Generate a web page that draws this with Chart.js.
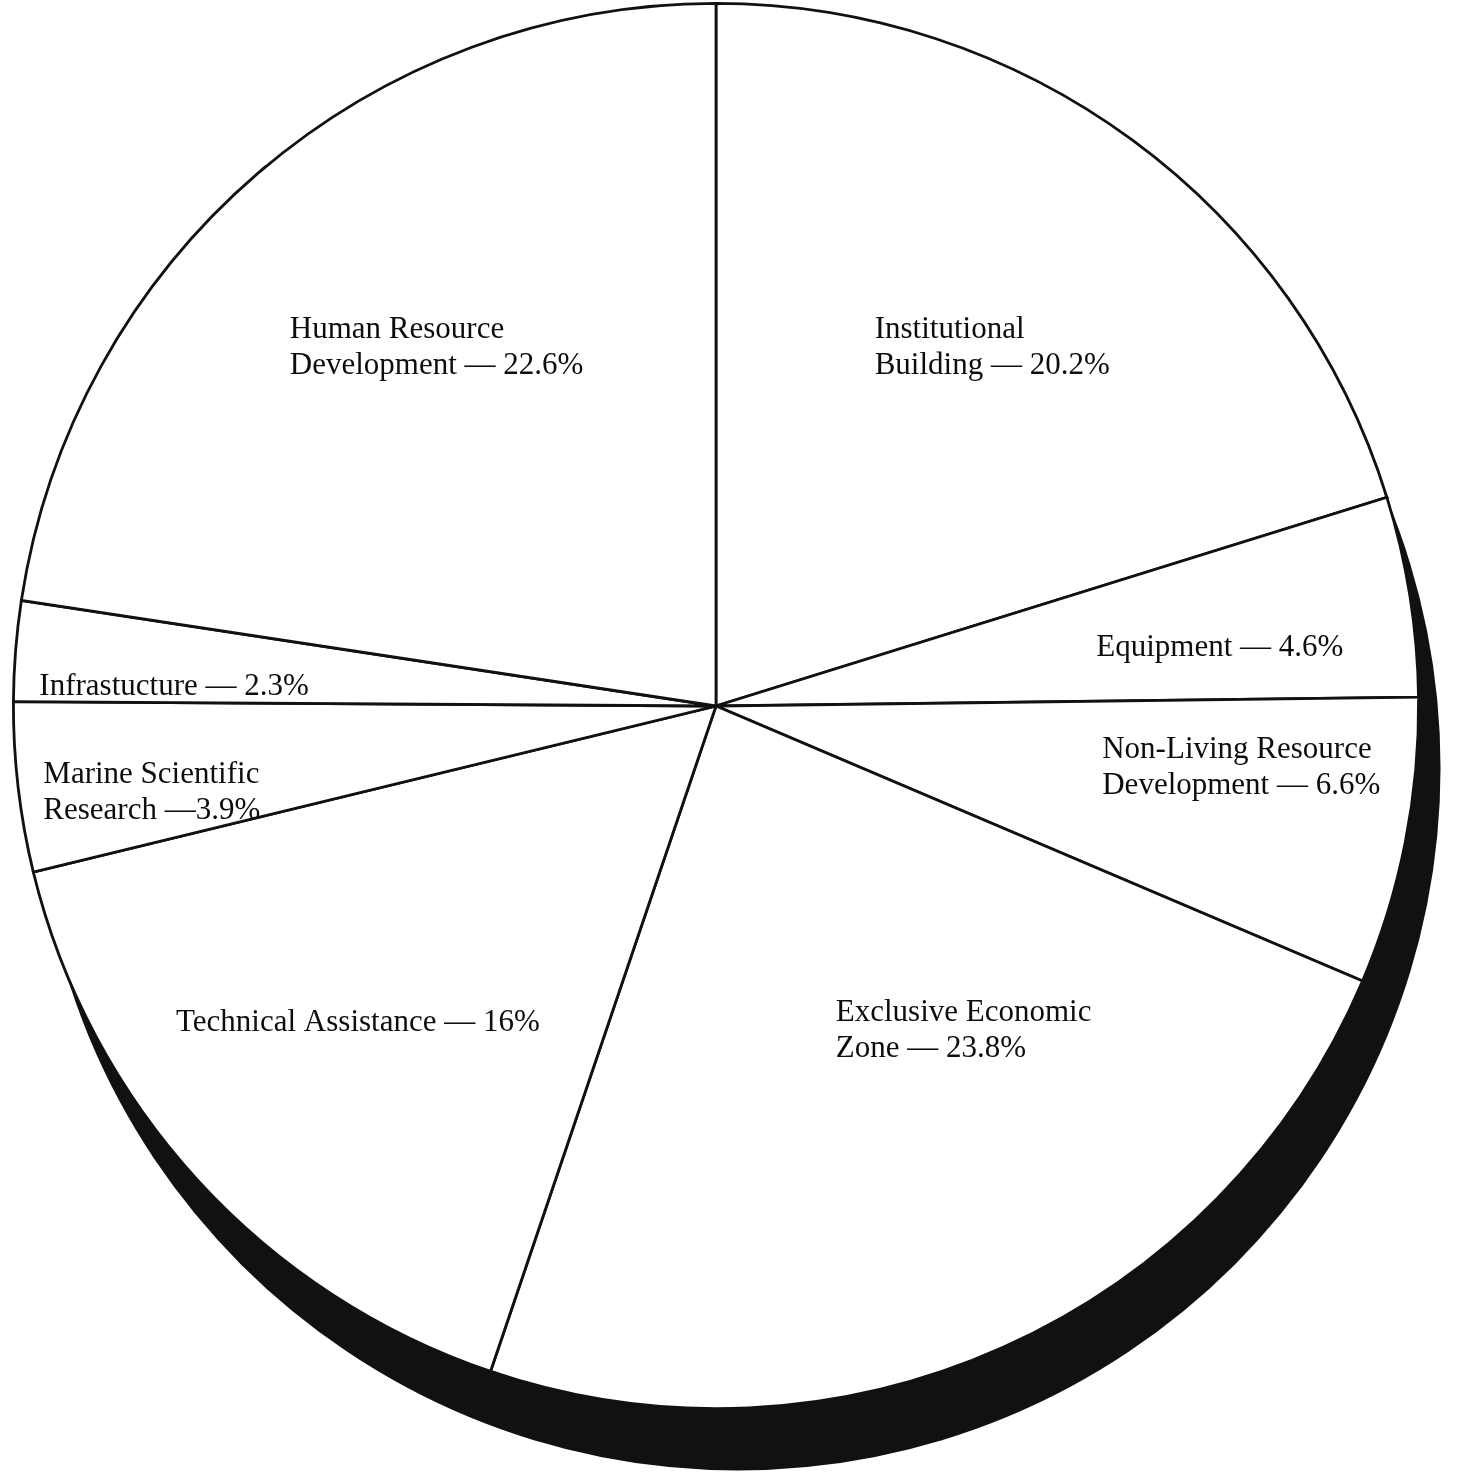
<!DOCTYPE html>
<html>
<head>
<meta charset="utf-8">
<script src="https://cdn.jsdelivr.net/npm/chart.js@4/dist/chart.umd.min.js"></script>
<style>
  html, body { margin: 0; padding: 0; background: #fff; }
  #wrap { width: 1461px; height: 1473px; position: relative; }
</style>
</head>
<body>
<div id="wrap"><canvas id="c"></canvas></div>
<script>
// ---- data ----
const categories = [
  "Institutional Building",
  "Equipment",
  "Non-Living Resource Development",
  "Exclusive Economic Zone",
  "Technical Assistance",
  "Marine Scientific Research",
  "Infrastucture",
  "Human Resource Development"
];
const shares = [20.2, 4.6, 6.6, 23.8, 16, 3.9, 2.3, 22.6];
// how each category name is broken into lines in its label
const nameLines = [
  ["Institutional", "Building"],
  ["Equipment"],
  ["Non-Living Resource", "Development"],
  ["Exclusive Economic", "Zone"],
  ["Technical Assistance"],
  ["Marine Scientific", "Research"],
  ["Infrastucture"],
  ["Human Resource", "Development"]
];
const dashSep = [" — ", " — ", " — ", " — ", " — ", " —", " — ", " — "];

// ---- label layout (offset of text left/first baseline from pie centre, at radius 704) ----
const labelLayout = [
  [159, -369], [381, -50], [387, 52], [120, 316],
  [-541, 326], [-674, 77], [-678, -11], [-427, -369]
];

const shadowPlugin = {
  id: 'shadow',
  beforeDatasetsDraw(chart) {
    const arc = chart.getDatasetMeta(0).data[0];
    if (!arc) return;
    const ctx = chart.ctx;
    const r = arc.outerRadius;
    const s = r / 704;
    ctx.save();
    ctx.fillStyle = '#111';
    ctx.beginPath();
    ctx.arc(arc.x + 22 * s, arc.y + 62 * s, r, 0, Math.PI * 2);
    ctx.fill();
    ctx.restore();
  }
};

const labelPlugin = {
  id: 'sliceLabels',
  afterDatasetsDraw(chart) {
    const meta = chart.getDatasetMeta(0);
    const arc = meta.data[0];
    if (!arc) return;
    const ctx = chart.ctx;
    const s = arc.outerRadius / 704;
    ctx.save();
    ctx.fillStyle = '#0d0d0d';
    ctx.font = '31px "Liberation Serif", "Times New Roman", serif';
    ctx.textAlign = 'left';
    ctx.textBaseline = 'alphabetic';
    const lh = 36 * s;
    categories.forEach((cat, i) => {
      const lines = nameLines[i].slice();
      lines[lines.length - 1] = lines[lines.length - 1] + dashSep[i] + shares[i] + '%';
      const x = arc.x + labelLayout[i][0] * s;
      const y = arc.y + labelLayout[i][1] * s;
      lines.forEach((ln, k) => ctx.fillText(ln, x, y + k * lh));
    });
    ctx.restore();
  }
};

new Chart(document.getElementById('c'), {
  type: 'pie',
  data: {
    labels: categories,
    datasets: [{
      data: shares,
      backgroundColor: '#ffffff',
      borderColor: '#111111',
      borderWidth: 2.8,
      borderJoinStyle: 'miter'
    }]
  },
  options: {
    responsive: true,
    maintainAspectRatio: false,
    animation: false,
    rotation: 0,
    layout: { padding: { left: 12, right: 41, top: 2, bottom: 63 } },
    plugins: {
      legend: { display: false },
      tooltip: { enabled: false }
    }
  },
  plugins: [shadowPlugin, labelPlugin]
});
</script>
</body>
</html>
